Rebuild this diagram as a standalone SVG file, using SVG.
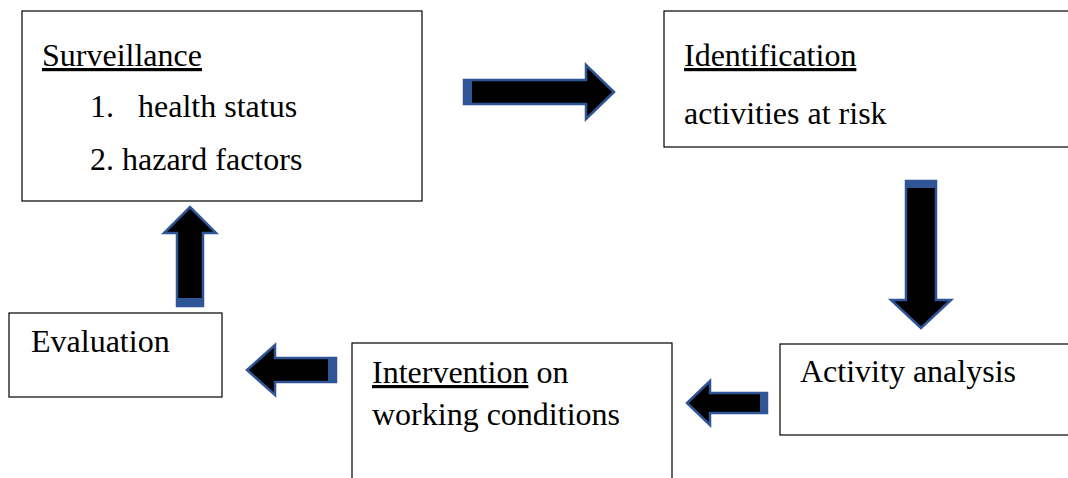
<svg xmlns="http://www.w3.org/2000/svg" width="1068" height="478" viewBox="0 0 1068 478">
<style>
.box{fill:#fff;stroke:#000;stroke-width:1.2}
.t{font-family:"Liberation Serif","Times New Roman",serif;font-size:32px;fill:#000}
.u{text-decoration:underline}
.arr{fill:#000;stroke:#2F5597;stroke-width:2.5;stroke-linejoin:miter}
.bar{fill:#2F5597}
</style>
<rect width="1068" height="478" fill="#fff"/>
<g id="surveillance">
<rect class="box" x="22" y="11" width="400" height="190"/>
<text class="t u" x="42" y="66">Surveillance</text>
<text class="t" x="90" y="117">1.</text>
<text class="t" x="138" y="117">health status</text>
<text class="t" x="90" y="170">2. hazard factors</text>
</g>
<g id="identification">
<rect class="box" x="664" y="11" width="410" height="136"/>
<text class="t u" x="684" y="66">Identification</text>
<text class="t" x="684" y="124">activities at risk</text>
</g>
<g id="activity">
<rect class="box" x="780" y="344" width="294" height="91"/>
<text class="t" x="800" y="382">Activity analysis</text>
</g>
<g id="intervention">
<rect class="box" x="352" y="343" width="320" height="140"/>
<text class="t" x="372" y="383"><tspan class="u">Intervention</tspan> on</text>
<text class="t" x="372" y="425">working conditions</text>
</g>
<g id="evaluation">
<rect class="box" x="9" y="313" width="213" height="84"/>
<text class="t" x="31" y="352">Evaluation</text>
</g>
<g id="connectors">
<path class="arr" d="M464,80 L586,80 L586,65 L614,92 L586,119 L586,104 L464,104 Z"/>
<rect class="bar" x="463" y="79" width="9" height="26"/>
<path class="arr" d="M906,181 L936,181 L936,300 L951,300 L921,328 L891,300 L906,300 Z"/>
<rect class="bar" x="905" y="180" width="32" height="8"/>
<path class="arr" d="M177,306 L177,233 L164,233 L190,207 L216,233 L203,233 L203,306 Z"/>
<rect class="bar" x="176" y="298" width="28" height="8"/>
<path class="arr" d="M336,358 L275,358 L275,345 L247,370 L275,395 L275,382 L336,382 Z"/>
<rect class="bar" x="328" y="357" width="9" height="26"/>
<path class="arr" d="M767,393 L710,393 L710,381 L687,403 L710,425 L710,413 L767,413 Z"/>
<rect class="bar" x="760" y="392" width="8" height="22"/>
</g>
</svg>
